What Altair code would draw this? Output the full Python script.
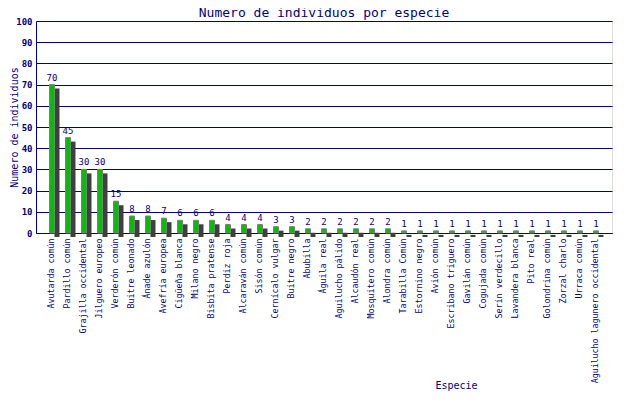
import altair as alt
import pandas as pd

especies = [
    "Avutarda común", "Pardillo común", "Grajilla occidental", "Jilguero europeo",
    "Verderón común", "Buitre leonado", "Ánade azulón", "Avefría europea",
    "Cigüeña blanca", "Milano negro", "Bisbita pratense", "Perdiz roja",
    "Alcaraván común", "Sisón común", "Cernícalo vulgar", "Buitre negro",
    "Abubilla", "Águila real", "Aguilucho pálido", "Alcaudón real",
    "Mosquitero común", "Alondra común", "Tarabilla Común", "Estornino negro",
    "Avión común", "Escribano triguero", "Gavilán común", "Cogujada común",
    "Serín verdecillo", "Lavandera blanca", "Pito real", "Golondrina común",
    "Zorzal charlo", "Urraca común", "Aguilucho lagunero occidental",
]
individuos = [70, 45, 30, 30, 15, 8, 8, 7, 6, 6, 6, 4, 4, 4, 3, 3,
              2, 2, 2, 2, 2, 2, 1, 1, 1, 1, 1, 1, 1, 1, 1, 1, 1, 1, 1]
y_ticks = list(range(0, 101, 10))

NAVY = "#000080"
FONT = "DejaVu Sans Mono"

df = pd.DataFrame({"Especie": especies, "n": individuos})

x = alt.X(
    "Especie:N",
    sort=especies,
    scale=alt.Scale(paddingInner=0, paddingOuter=0.5),
    axis=alt.Axis(
        title="Especie", labelAngle=270, labelFont=FONT, labelFontSize=8.3,
        labelColor=NAVY, labelPadding=5, labelOverlap=False, labelLimit=300,
        ticks=False, domainColor=NAVY, titleFont=FONT, titleFontSize=10,
        titleFontWeight="normal", titleColor=NAVY, titleX=420, titleY=155,
        titleAlign="center", titleBaseline="alphabetic",
    ),
)
y = alt.Y(
    "n:Q",
    scale=alt.Scale(domain=[0, 100], nice=False),
    axis=alt.Axis(
        title="Numero de individuos", values=y_ticks, labelFont=FONT,
        labelFontSize=9, labelFontWeight="bold", labelColor=NAVY,
        labelPadding=4, ticks=False, domainColor=NAVY, gridColor=NAVY,
        gridOpacity=1, titleFont=FONT, titleFontSize=10, titleFontWeight="normal",
        titleColor=NAVY, titleX=-22, titleY=106, titleAngle=270,
        titleAlign="center", titleBaseline="middle",
    ),
)

base = alt.Chart(df)
shadow = base.mark_bar(width=5, color="#404040", xOffset=5, yOffset=4).encode(x=x, y=y)
bars = base.mark_bar(width=5, color="#00c000", stroke="#808080", strokeWidth=1).encode(x=x, y=y)
labels = base.mark_text(font=FONT, fontSize=9, color=NAVY, baseline="alphabetic", dy=-4).encode(
    x=x, y=y, text="n:Q"
)

chart = (
    alt.layer(shadow, bars, labels)
    .properties(
        width=576, height=212,
        autosize=alt.AutoSizeParams(type="none"),
        padding={"left": 28, "top": 13, "right": 20, "bottom": 159},
        title=alt.TitleParams(
            "Numero de individuos por especie", font=FONT, fontSize=13,
            fontWeight="normal", color=NAVY, anchor="middle", baseline="alphabetic",
            frame="group", offset=0, dy=13,
        ),
    )
    .configure_view(stroke=NAVY, strokeWidth=1)
    .configure(background="white")
)

chart.save("out.html", embed_options={"renderer": "svg", "actions": False})
